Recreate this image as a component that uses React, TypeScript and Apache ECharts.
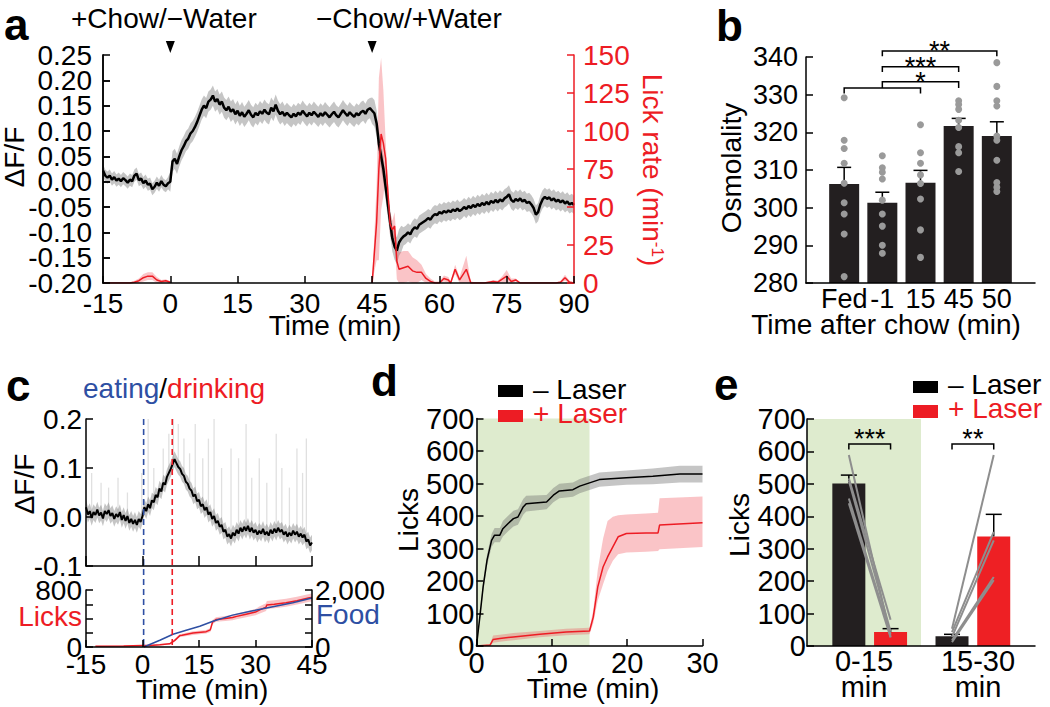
import React, { useEffect, useRef } from 'react';
import * as echarts from 'echarts';

// ---------------- style constants ----------------
const FONT = "'Liberation Sans', Arial, Helvetica, sans-serif";
const RED = '#ed1c24';
const BLUE = '#2e4fa3';
const BAR_BLACK = '#231f20';
const BAR_RED = '#ee2024';
const GREEN = '#deebce';
const DOT_GRAY = '#9a9a9a';
const PAIR_GRAY = '#8e8e8e';
const GRAY_BAND = 'rgba(110,110,110,0.4)';
const PINK_BAND = 'rgba(240,60,70,0.3)';
const SPIKE_GRAY = '#e0e0e0';

// ---------------- panel a data ----------------
const aTimeStart = -15;
const aTimeStep = 0.5;
const aDff = [
  0.022, 0.012, 0.008, 0.012, 0.004, 0.009, 0.002, 0.006, 0.001, 0.007,
  0.003, -0.002, 0.004, 0.001, 0.012, 0.016, 0.003, 0.006, -0.003, 0.002,
  -0.006, -0.004, -0.015, -0.010, -0.002, -0.008, 0.001, -0.006, -0.009, -0.003,
  0.000,
  0.040, 0.045, 0.035, 0.050, 0.062, 0.070, 0.080, 0.085, 0.095, 0.100,
  0.108, 0.118, 0.130, 0.142, 0.150, 0.145, 0.158, 0.162, 0.170, 0.158,
  0.163, 0.152, 0.158, 0.146, 0.141, 0.148, 0.138, 0.143, 0.133, 0.140,
  0.130, 0.137, 0.128, 0.134, 0.141, 0.132, 0.127, 0.136, 0.131, 0.139,
  0.134, 0.142, 0.136, 0.133, 0.146, 0.139, 0.152, 0.140, 0.133, 0.138,
  0.130, 0.136, 0.131, 0.127, 0.134, 0.129, 0.136, 0.132, 0.140, 0.134,
  0.129, 0.136, 0.131, 0.138, 0.133, 0.128, 0.135, 0.130, 0.137, 0.132,
  0.127, 0.133, 0.138, 0.131, 0.127, 0.134, 0.141, 0.135, 0.130, 0.137,
  0.132, 0.128, 0.135, 0.131, 0.137, 0.140, 0.134, 0.142, 0.145, 0.140,
  0.135, 0.115, 0.075, 0.050, 0.025, -0.010, -0.045, -0.080, -0.112, -0.128,
  -0.136, -0.120, -0.113, -0.108,
  -0.105, -0.100, -0.104, -0.095, -0.090, -0.093, -0.085, -0.082, -0.079, -0.076,
  -0.072, -0.075, -0.068, -0.064, -0.066, -0.060, -0.063, -0.058, -0.061, -0.057,
  -0.060, -0.055, -0.058, -0.053, -0.058, -0.055, -0.050, -0.054, -0.048, -0.052,
  -0.046, -0.050, -0.044, -0.048, -0.042, -0.046, -0.040, -0.045, -0.038, -0.042,
  -0.036, -0.041, -0.035, -0.039, -0.033, -0.030, -0.025, -0.036, -0.040, -0.034,
  -0.038, -0.033, -0.039, -0.036, -0.042, -0.040, -0.045, -0.052, -0.065, -0.060,
  -0.045, -0.035, -0.030, -0.034, -0.031, -0.037, -0.033, -0.039, -0.036, -0.041,
  -0.037, -0.043, -0.039, -0.045, -0.042, -0.046,
];
const aSemSteps = [[-15, 0.012], [0, 0.02], [45, 0.026], [52, 0.018]];
const aEventTimes = [0, 45];
const aEventLabels = ['+Chow/\u2212Water', '\u2212Chow/+Water'];

const lickTimePre = [-15, -14, -13, -12, -11, -10, -9, -8, -7, -6, -5, -4, -3, -2, -1, 0];
const lickRatePre = [0, 0, 0, 0, 0, 0, 0, 0.5, 1.5, 3.5, 4.5, 4.5, 2, 1, 1.5, 0.5];
const lickSemPre = [0.5, 0.5, 0.5, 0.5, 0.5, 0.5, 0.5, 1, 1.5, 2.5, 2.5, 2.5, 2, 1, 1, 0.5];
const lickTimePost = [
  45, 46, 46.5, 47, 47.5, 48, 48.5, 49, 49.5, 50,
  50.5, 51, 52, 53, 54, 55, 56, 57, 58, 59,
  60, 61, 62, 62.5, 63.5, 64.5, 66, 67, 68, 70,
  71, 72, 73, 74, 75, 76, 77, 78, 80, 82,
  84, 86, 87, 88, 89, 90,
];
const lickRatePost = [
  0, 40, 75, 98, 92, 82, 60, 39, 35, 37.5,
  14.5, 9, 10, 11, 8, 7, 7, 3, 1, 0,
  0, 3, 2, 0, 9, 2, 9, 0, 0, 0,
  0.5, 1, 0.5, 2.5, 4.5, 1, 2, 0, 0, 0,
  0, 0, 0.5, 3.5, 0.5, 0,
];
const lickSemPost = [
  0, 25, 60, 50, 35, 12, 8, 8, 6, 9,
  12, 11, 11, 10, 9, 8, 5, 3, 2, 1,
  1, 2, 2, 1, 3, 2, 9, 1, 0.5, 0.5,
  0.5, 1, 1, 2, 4, 2, 1, 0.5, 0.5, 0.5,
  0.5, 0.5, 1, 2, 1, 0.5,
];

// ---------------- panel b data ----------------
const bCategories = ['Fed', '-1', '15', '45', '50'];
const bMean = [306.3, 301.3, 306.6, 321.7, 319.0];
const bSem = [4.4, 2.8, 3.3, 2.0, 3.8];
const bDotsFed = [329.2, 317.9, 315.7, 311.8, 306.5, 301.3, 298.3, 293.0, 281.7];
const bDotsM1 = [313.8, 310.6, 309.4, 307.6, 302.0, 298.3, 295.1, 290.0, 287.9];
const bDots15 = [322.0, 314.6, 311.8, 308.7, 306.4, 302.3, 294.1, 286.8];
const bDots45 = [328.4, 327.4, 326.1, 323.2, 321.3, 316.2, 314.6, 309.6];
const bDots50 = [338.5, 332.2, 328.4, 327.0, 319.0, 317.9, 312.6, 306.7, 305.4, 304.3];
const bSigFrom = [0, 1, 1, 1];
const bSigTo = [2, 3, 3, 4];
const bSigY = [331.8, 333.4, 337.4, 341.6];
const bSigEnd = [330.3, 331.8, 336.0, 340.2];
const bSigLabel = ['', '*', '***', '**'];

// ---------------- panel c data ----------------
const cTimeStart = -15;
const cTimeStep = 0.5;
const cDff = [
  0.020, 0.005, 0.012, -0.002, 0.010, 0.004, 0.015, 0.003, 0.009, -0.003,
  0.012, 0.006, 0.014, 0.002, 0.008, -0.004, 0.006, 0.000, 0.010, -0.006,
  0.004, -0.008, 0.002, -0.012, -0.004, -0.014, -0.006, -0.016, -0.004, -0.010,
  0.002, 0.020, 0.012, 0.026, 0.018, 0.034, 0.030, 0.045, 0.040, 0.058,
  0.052, 0.070, 0.066, 0.082, 0.090, 0.098, 0.108, 0.118, 0.110, 0.102,
  0.098, 0.088, 0.084, 0.072, 0.068, 0.058, 0.054, 0.042, 0.046, 0.032,
  0.035, 0.022, 0.026, 0.014, 0.020, 0.005, 0.010, -0.004, 0.002, -0.012,
  -0.008, -0.020, -0.016, -0.030, -0.026, -0.040, -0.035, -0.044, -0.032, -0.038,
  -0.026, -0.034, -0.022, -0.030, -0.020, -0.028, -0.018, -0.030, -0.022, -0.032,
  -0.026, -0.036, -0.028, -0.034, -0.024, -0.036, -0.030, -0.038, -0.026, -0.034,
  -0.024, -0.032, -0.022, -0.030, -0.026, -0.036, -0.030, -0.040, -0.032, -0.038,
  -0.028, -0.036, -0.030, -0.040, -0.034, -0.042, -0.036, -0.050, -0.046, -0.058,
  -0.052,
];
const cSem = 0.016;
const cSpikes = [
  [-13.5, 0.09], [-11, 0.07], [-9, 0.06], [-6.5, 0.08], [-4, 0.05], [-0.2, 0.09],
  [1.5, 0.2], [3, 0.1], [5.5, 0.14], [7, 0.17], [8.2, 0.2], [9.5, 0.19], [11, 0.16],
  [12.5, 0.13], [14, 0.19], [16, 0.12], [17.5, 0.16], [19, 0.2], [21, 0.1], [23.5, 0.14],
  [25.5, 0.12], [27.5, 0.19], [29, 0.08], [31, 0.12], [33, 0.07], [35.5, 0.17], [37, 0.1],
  [39, 0.06], [41, 0.14], [42.5, 0.09], [43.5, 0.16],
];
const cEventTimes = [0.3, 7.9];
const cLickT = [-12.5, -5, 0, 2, 4.6, 7.2, 8.5, 9.9, 10.5, 13.4, 16.9, 18, 18.6, 19.5, 22, 23.9, 25, 27.5, 30, 31, 32.8, 33, 35, 38.1, 41, 44.3, 45];
const cLicks = [12, 15, 20, 22, 30, 45, 90, 160, 165, 195, 215, 240, 350, 385, 400, 414, 430, 461, 490, 518, 560, 590, 600, 621, 650, 690, 695];
const cLickSem = [4, 5, 6, 8, 10, 12, 15, 20, 22, 25, 25, 28, 30, 32, 35, 38, 40, 42, 45, 50, 55, 55, 55, 55, 55, 55, 55];
const cFoodT = [0.35, 4.6, 8.1, 11.6, 15.2, 18.7, 23.9, 29.3, 34.6, 39.9, 45];
const cFood = [0, 235, 447, 588, 729, 906, 1118, 1270, 1412, 1553, 1720];

// ---------------- panel d data ----------------
const laserWindow = [0, 15];
const dMinusT = [0, 0.44, 0.88, 1.4, 2.0, 2.4, 3.1, 3.5, 4.2, 4.9, 5.5, 6.2, 6.6, 9.3, 10.2, 11.0, 12.8, 13.7, 15.0, 16.3, 19.9, 23.4, 27.0, 30];
const dMinus = [0, 89, 182, 264, 325, 341, 341, 361, 377, 392, 397, 428, 438, 443, 464, 477, 481, 492, 502, 512, 518, 522, 529, 529];
const dMinusSem = [0, 8, 14, 18, 20, 22, 22, 24, 24, 24, 24, 24, 24, 22, 22, 22, 22, 22, 22, 22, 22, 24, 26, 26];
const dPlusT = [0, 1.8, 2.2, 3.1, 4.9, 8.4, 11.9, 15.0, 15.5, 16.1, 16.8, 17.4, 18.1, 18.8, 19.9, 22.5, 24.1, 24.3, 30];
const dPlus = [0, 3, 20, 23, 28, 36, 43, 46, 89, 182, 243, 274, 305, 336, 346, 348, 348, 372, 379];
const dPlusHi = [0, 5, 32, 35, 40, 46, 53, 56, 110, 235, 330, 385, 398, 402, 405, 408, 410, 455, 460];
const dPlusLo = [0, 1, 10, 13, 18, 27, 33, 36, 70, 140, 190, 230, 262, 282, 288, 290, 292, 298, 305];

// ---------------- panel e data ----------------
const eGroups = ['0-15\nmin', '15-30\nmin'];
const eMinusMean = [501, 30];
const eMinusSem = [26, 6];
const ePlusMean = [43, 338];
const ePlusSem = [10.5, 68];
const eMinusEach = [[589, 517, 510, 455, 440], [53.5, 43, 28, 17.5, 12]];
const ePlusEach = [[28, 81, 45, 35, 26], [589, 352, 326, 213, 203]];
const eSigLabel = ['***', '**'];
const eSigY = 623;
const eSigEnd = 606;
const legendNames = ['\u2013 Laser', '+ Laser'];

// ---------------- layout ----------------
const G = {
  a: { left: 103, top: 55, width: 471, height: 228 },
  b: { left: 806, top: 57, width: 229, height: 226 },
  cU: { left: 86, top: 419, width: 226, height: 147 },
  cL: { left: 86, top: 590, width: 226, height: 57 },
  d: { left: 476.5, top: 418.5, width: 226, height: 227.5 },
  e: { left: 807, top: 419, width: 228, height: 227 },
};
const E_CENTER = [0.55, 1.455];
const E_HALF = 0.183;
const eX = (g: number, k: number) => E_CENTER[g] + (k === 0 ? -E_HALF : E_HALF);

function axis(o: any) {
  const color = o.color || '#000';
  const a: any = {
    type: o.type || 'value',
    gridIndex: o.gridIndex,
    z: 10,
    axisLine: { show: o.showLine !== false, onZero: false, lineStyle: { color, width: 1.5 } },
    axisTick: { show: o.showTicks !== false, inside: true, length: o.tickLen || 7, lineStyle: { color, width: 1.5 } },
    axisLabel: {
      show: o.showLabels !== false, color, fontSize: o.fontSize || 28, fontFamily: FONT,
      margin: o.margin ?? 8,
      showMinLabel: o.showMin !== undefined ? o.showMin : true,
      showMaxLabel: o.showMax !== undefined ? o.showMax : true,
      hideOverlap: false,
    },
    splitLine: { show: false },
    splitArea: { show: false },
    minorTick: { show: false },
  };
  if (o.min !== undefined) a.min = o.min;
  if (o.max !== undefined) a.max = o.max;
  if (o.interval !== undefined) a.interval = o.interval;
  if (o.position) a.position = o.position;
  if (o.data) a.data = o.data;
  if (o.boundaryGap !== undefined) a.boundaryGap = o.boundaryGap;
  if (o.formatter) a.axisLabel.formatter = o.formatter;
  if (o.lineHeight) a.axisLabel.lineHeight = o.lineHeight;
  if (o.type === 'category') a.axisLabel.interval = 0;
  return a;
}

const bandSeries = (xi: number, yi: number, rows: number[][], fill: string, z: number) => ({
  type: 'custom', xAxisIndex: xi, yAxisIndex: yi, z, silent: true, clip: true,
  data: [[rows[0][0], rows[0][1]]],
  renderItem: (params: any, api: any) => {
    const up = rows.map((r) => api.coord([r[0], r[2]]));
    const lo = rows.slice().reverse().map((r) => api.coord([r[0], r[1]]));
    return { type: 'polygon', shape: { points: up.concat(lo) }, style: { fill } };
  },
});

const lineSeries = (xi: number, yi: number, pts: any[], color: string, width: number, z: number) => ({
  type: 'line', xAxisIndex: xi, yAxisIndex: yi, z, silent: true, data: pts,
  symbol: 'none', showSymbol: false, connectNulls: false,
  lineStyle: { color, width }, itemStyle: { color }, emphasis: { disabled: true },
});

const errSeries = (xi: number, yi: number, rows: number[][], cap: number, z: number) => ({
  type: 'custom', xAxisIndex: xi, yAxisIndex: yi, z, silent: true,
  data: rows, encode: { x: 0, y: [1, 2] },
  renderItem: (params: any, api: any) => {
    const x = api.value(0);
    const p0 = api.coord([x, api.value(1)]);
    const p1 = api.coord([x, api.value(2)]);
    const st = { stroke: '#000', lineWidth: 1.5 };
    return {
      type: 'group', children: [
        { type: 'line', shape: { x1: p0[0], y1: p0[1], x2: p1[0], y2: p1[1] }, style: st },
        { type: 'line', shape: { x1: p1[0] - cap, y1: p1[1], x2: p1[0] + cap, y2: p1[1] }, style: st },
      ],
    };
  },
});

const bracketSeries = (xi: number, yi: number, rows: number[][], labels: string[], fontSize: number, dy: number, z: number) => ({
  type: 'custom', xAxisIndex: xi, yAxisIndex: yi, z, silent: true, clip: false,
  data: rows, encode: { x: [0, 1], y: [2, 3] },
  renderItem: (params: any, api: any) => {
    const x1 = api.value(0), x2 = api.value(1), y = api.value(2), ye = api.value(3);
    const a = api.coord([x1, y]), b = api.coord([x2, y]);
    const ae = api.coord([x1, ye]), be = api.coord([x2, ye]);
    const children: any[] = [
      { type: 'polyline', shape: { points: [ae, a, b, be] }, style: { stroke: '#000', lineWidth: 1.5, fill: null } },
    ];
    const label = labels[params.dataIndex];
    if (label) {
      children.push({
        type: 'text', x: (a[0] + b[0]) / 2, y: a[1] + dy,
        style: { text: label, fontSize, fontFamily: FONT, fill: '#000', align: 'center', verticalAlign: 'middle' },
      });
    }
    return { type: 'group', children };
  },
});

const shadeSeries = (xi: number, yi: number, x0: number, x1: number, y0: number, y1: number, z: number) => ({
  type: 'custom', xAxisIndex: xi, yAxisIndex: yi, z, silent: true,
  data: [[x0, y0, x1, y1]], encode: { x: [0, 2], y: [1, 3] },
  renderItem: (params: any, api: any) => {
    const a = api.coord([api.value(0), api.value(3)]);
    const b = api.coord([api.value(2), api.value(1)]);
    return { type: 'rect', shape: { x: a[0], y: a[1], width: b[0] - a[0], height: b[1] - a[1] }, style: { fill: GREEN } };
  },
});

function txt(text: string, x: number, y: number, o: any = {}) {
  return {
    type: 'text', x, y, rotation: o.rotation || 0, silent: true, z: 100,
    style: {
      text, fontSize: o.fontSize || 28, fontFamily: FONT, fontWeight: o.bold ? 'bold' : 'normal',
      fill: o.color || '#000', align: o.align || 'center', verticalAlign: 'middle',
    },
  };
}
function rect(x: number, y: number, w: number, h: number, fill: string) {
  return { type: 'rect', shape: { x, y, width: w, height: h }, style: { fill }, silent: true, z: 100 };
}

const A_Y_MIN = -0.2;
const A_Y_MAX = 0.25;
const fmt2 = (v: number) => (Math.abs(v) < 1e-9 ? '0.00' : v.toFixed(2));
const isEdge = (v: number) => Math.abs(v - A_Y_MIN) < 1e-9 || Math.abs(v - A_Y_MAX) < 1e-9;

function buildOption() {
  const grids = [G.a, G.b, G.cU, G.cL, G.d, G.e].map((g) => ({ ...g, containLabel: false, outerBoundsMode: 'none', show: false }));

  const xAxes = [
    axis({ gridIndex: 0, min: -15, max: 90, interval: 15, margin: 6 }),
    axis({ gridIndex: 1, type: 'category', data: ['', ...bCategories, ''], boundaryGap: false, showTicks: false, margin: 2, fontSize: 27 }),
    axis({ gridIndex: 2, min: -15, max: 45, interval: 15, showLabels: false, tickLen: 10 }),
    axis({ gridIndex: 3, min: -15, max: 45, interval: 15, margin: 3 }),
    axis({ gridIndex: 4, min: 0, max: 30, interval: 10, margin: 2, fontSize: 29 }),
    axis({
      gridIndex: 5, min: 0, max: 2, interval: 0.5, showTicks: false, margin: 2, fontSize: 29, lineHeight: 26,
      formatter: (v: number) => (v === 0.5 ? eGroups[0] : v === 1.5 ? eGroups[1] : ''),
    }),
  ];
  const yAxes = [
    // inner labels of the ΔF/F axis (edges handled by yAxis 8)
    axis({ gridIndex: 0, min: A_Y_MIN, max: A_Y_MAX, interval: 0.05, margin: 11, showMin: false, showMax: false, formatter: (v: number) => (isEdge(v) ? '' : fmt2(v)) }),
    axis({ gridIndex: 0, min: 0, max: 150, interval: 25, position: 'right', color: RED, margin: 9 }),
    axis({ gridIndex: 1, min: 280, max: 340, interval: 10, margin: 8, fontSize: 27 }),
    axis({ gridIndex: 2, min: -0.1, max: 0.2, interval: 0.1, margin: 4, formatter: (v: number) => (Math.abs(v) < 1e-9 ? '0.0' : v.toFixed(1)) }),
    axis({ gridIndex: 3, min: 0, max: 800, interval: 200, margin: 4, formatter: (v: number) => (v === 0 || v === 800 ? String(v) : '') }),
    axis({ gridIndex: 3, min: 0, max: 2000, interval: 500, position: 'right', margin: 3, formatter: (v: number) => (v === 0 ? '0' : v === 2000 ? '2,000' : '') }),
    axis({ gridIndex: 4, min: 0, max: 700, interval: 100, margin: 2, fontSize: 29, lineHeight: 24 }),
    axis({ gridIndex: 5, min: 0, max: 700, interval: 100, margin: 1, fontSize: 29, lineHeight: 24 }),
    // edge labels (-0.20, 0.25) of the ΔF/F axis
    axis({ gridIndex: 0, min: A_Y_MIN, max: A_Y_MAX, interval: 0.05, position: 'left', margin: 11, formatter: (v: number) => (isEdge(v) ? fmt2(v) : '') }),
  ];

  // ---- panel a ----
  const semAt = (t: number) => {
    let s = aSemSteps[0][1];
    for (const [t0, v] of aSemSteps) if (t >= t0) s = v;
    return s;
  };
  const aPts = aDff.map((v, i) => [aTimeStart + i * aTimeStep, v]);
  const aBand = aPts.map(([t, v]) => [t, v - semAt(t), v + semAt(t)]);
  const lickPre = lickTimePre.map((t, i) => [t, lickRatePre[i]]);
  const lickPost = lickTimePost.map((t, i) => [t, lickRatePost[i]]);
  const lickBandPre = lickTimePre.map((t, i) => [t, Math.max(0, lickRatePre[i] - lickSemPre[i]), lickRatePre[i] + lickSemPre[i]]);
  const lickBandPost = lickTimePost.map((t, i) => [t, Math.max(0, lickRatePost[i] - lickSemPost[i]), lickRatePost[i] + lickSemPost[i]]);
  const lickLine = [...lickPre, [22.5, '-'], ...lickPost];

  // ---- panel c ----
  const cPts = cDff.map((v, i) => [cTimeStart + i * cTimeStep, v]);
  const cBand = cPts.map(([t, v]) => [t, v - cSem, v + cSem]);
  const cLickPts = cLickT.map((t, i) => [t, cLicks[i]]);
  const cLickBand = cLickT.map((t, i) => [t, Math.max(0, cLicks[i] - cLickSem[i]), cLicks[i] + cLickSem[i]]);
  const cFoodPts = cFoodT.map((t, i) => [t, cFood[i]]);

  // ---- panel d ----
  const dMinusPts = dMinusT.map((t, i) => [t, dMinus[i]]);
  const dMinusBand = dMinusT.map((t, i) => [t, dMinus[i] - dMinusSem[i], dMinus[i] + dMinusSem[i]]);
  const dPlusPts = dPlusT.map((t, i) => [t, dPlus[i]]);
  const dPlusBand = dPlusT.map((t, i) => [t, dPlusLo[i], dPlusHi[i]]);

  // ---- panel e ----
  const ePairs: number[][] = [];
  eMinusEach.forEach((arr, g) => arr.forEach((v, k) => ePairs.push([eX(g, 0), v, eX(g, 1), ePlusEach[g][k]])));

  const series: any[] = [
    // panel a
    bandSeries(0, 0, aBand, GRAY_BAND, 2),
    bandSeries(0, 1, lickBandPre, PINK_BAND, 3),
    bandSeries(0, 1, lickBandPost, PINK_BAND, 3),
    lineSeries(0, 0, aPts, '#000', 2.5, 4),
    lineSeries(0, 1, lickLine, RED, 1.5, 5),
    {
      type: 'custom', xAxisIndex: 0, yAxisIndex: 0, z: 6, silent: true, clip: false,
      data: aEventTimes.map((t) => [t, A_Y_MAX]),
      renderItem: (params: any, api: any) => {
        const p = api.coord([api.value(0), api.value(1)]);
        return { type: 'polygon', shape: { points: [[p[0] - 4.5, p[1] - 14], [p[0] + 4.5, p[1] - 14], [p[0], p[1] - 2]] }, style: { fill: '#000' } };
      },
    },
    // panel b
    { type: 'bar', xAxisIndex: 1, yAxisIndex: 2, z: 2, silent: true, barWidth: 30, data: ['-', ...bMean, '-'], itemStyle: { color: BAR_BLACK } },
    errSeries(1, 2, bMean.map((m, i) => [i + 1, m, m + bSem[i]]), 7, 3),
    {
      type: 'scatter', xAxisIndex: 1, yAxisIndex: 2, z: 4, silent: true, symbolSize: 7,
      itemStyle: { color: DOT_GRAY, opacity: 1 },
      data: [bDotsFed, bDotsM1, bDots15, bDots45, bDots50].flatMap((arr, i) => arr.map((v) => [i + 1, v])),
    },
    bracketSeries(1, 2, bSigFrom.map((f, i) => [f + 1, bSigTo[i] + 1, bSigY[i], bSigEnd[i]]), bSigLabel, 27, 0, 5),
    // panel c upper
    {
      type: 'custom', xAxisIndex: 2, yAxisIndex: 3, z: 1, silent: true, clip: true,
      data: cSpikes, encode: { x: 0, y: 1 },
      renderItem: (params: any, api: any) => {
        const t = api.value(0);
        const idx = Math.round((t - cTimeStart) / cTimeStep);
        const a = api.coord([t, cDff[idx]]);
        const b = api.coord([t, api.value(1)]);
        return { type: 'line', shape: { x1: a[0], y1: a[1], x2: b[0], y2: b[1] }, style: { stroke: SPIKE_GRAY, lineWidth: 1.3 } };
      },
    },
    bandSeries(2, 3, cBand, GRAY_BAND, 2),
    lineSeries(2, 3, cPts, '#000', 2, 4),
    {
      type: 'custom', xAxisIndex: 2, yAxisIndex: 3, z: 6, silent: true, clip: false,
      data: cEventTimes.map((t) => [t, 0.2]),
      renderItem: (params: any, api: any) => {
        const a = api.coord([api.value(0), api.value(1)]);
        return {
          type: 'line', shape: { x1: a[0], y1: a[1], x2: a[0], y2: G.cL.top + G.cL.height },
          style: { stroke: params.dataIndex === 0 ? BLUE : RED, lineWidth: 1.6, lineDash: [6, 4] },
        };
      },
    },
    // panel c lower
    bandSeries(3, 4, cLickBand, PINK_BAND, 2),
    lineSeries(3, 4, cLickPts, RED, 1.5, 4),
    lineSeries(3, 5, cFoodPts, BLUE, 1.5, 5),
    // panel d
    shadeSeries(4, 6, laserWindow[0], laserWindow[1], 0, 700, 1),
    bandSeries(4, 6, dMinusBand, GRAY_BAND, 2),
    bandSeries(4, 6, dPlusBand, PINK_BAND, 2),
    lineSeries(4, 6, dMinusPts, '#000', 1.5, 4),
    lineSeries(4, 6, dPlusPts, RED, 1.5, 4),
    // panel e
    shadeSeries(5, 7, 0, 1, 0, 700, 1),
    { type: 'bar', xAxisIndex: 5, yAxisIndex: 7, z: 2, silent: true, barWidth: 33, barGap: '-100%', data: eMinusMean.map((v, g) => [eX(g, 0), v]), itemStyle: { color: BAR_BLACK } },
    { type: 'bar', xAxisIndex: 5, yAxisIndex: 7, z: 2, silent: true, barWidth: 33, barGap: '-100%', data: ePlusMean.map((v, g) => [eX(g, 1), v]), itemStyle: { color: BAR_RED } },
    errSeries(5, 7, [
      ...eMinusMean.map((m, g) => [eX(g, 0), m, m + eMinusSem[g]]),
      ...ePlusMean.map((m, g) => [eX(g, 1), m, m + ePlusSem[g]]),
    ], 8, 3),
    {
      type: 'custom', xAxisIndex: 5, yAxisIndex: 7, z: 4, silent: true,
      data: ePairs, encode: { x: [0, 2], y: [1, 3] },
      renderItem: (params: any, api: any) => {
        const a = api.coord([api.value(0), api.value(1)]);
        const b = api.coord([api.value(2), api.value(3)]);
        return { type: 'line', shape: { x1: a[0], y1: a[1], x2: b[0], y2: b[1] }, style: { stroke: PAIR_GRAY, lineWidth: 2 } };
      },
    },
    bracketSeries(5, 7, [0, 1].map((g) => [eX(g, 0), eX(g, 1), eSigY, eSigEnd]), eSigLabel, 27, -5, 5),
  ];

  const red = { color: RED };
  const graphics: any[] = [
    // panel a
    txt('a', 4, 24, { bold: true, fontSize: 44, align: 'left' }),
    txt(aEventLabels[0], 71, 18, { align: 'left' }),
    txt(aEventLabels[1], 316, 18, { align: 'left' }),
    txt('\u0394F/F', 14, 157, { rotation: Math.PI / 2 }),
    txt('Time (min)', 335, 325),
    {
      type: 'text', x: 652, y: 170, rotation: -Math.PI / 2, silent: true, z: 100,
      style: {
        text: '{n|Lick rate (min}{s|-1}{n|)}', align: 'center', verticalAlign: 'middle', fontFamily: FONT, fontSize: 28, fill: RED,
        rich: {
          n: { fontSize: 28, fontFamily: FONT, fill: RED, color: RED },
          s: { fontSize: 17, fontFamily: FONT, fill: RED, color: RED, verticalAlign: 'top' },
        },
      },
    },
    // panel b
    txt('b', 716, 25, { bold: true, fontSize: 44, align: 'left' }),
    txt('Osmolality', 731, 168, { rotation: Math.PI / 2 }),
    txt('Time after chow (min)', 886, 324),
    // panel c
    txt('c', 6, 385, { bold: true, fontSize: 44, align: 'left' }),
    {
      type: 'text', x: 83, y: 388, silent: true, z: 100,
      style: {
        text: '{e|eating}{s|/}{d|drinking}', align: 'left', verticalAlign: 'middle', fontFamily: FONT, fontSize: 28,
        rich: {
          e: { fontSize: 28, fontFamily: FONT, fill: BLUE, color: BLUE },
          s: { fontSize: 28, fontFamily: FONT, fill: '#000', color: '#000' },
          d: { fontSize: 28, fontFamily: FONT, fill: RED, color: RED },
        },
      },
    },
    txt('\u0394F/F', 24, 484, { rotation: Math.PI / 2 }),
    txt('Licks', 82, 616, { align: 'right', ...red }),
    txt('Food', 316, 614, { align: 'left', color: BLUE }),
    txt('Time (min)', 202, 689),
    // panel d
    txt('d', 371, 380, { bold: true, fontSize: 44, align: 'left' }),
    rect(498, 385, 25, 12, '#000'),
    txt(legendNames[0], 533, 389, { align: 'left' }),
    rect(498, 410, 25, 12, RED),
    txt(legendNames[1], 533, 413, { align: 'left', ...red }),
    txt('Licks', 408, 520, { rotation: Math.PI / 2 }),
    txt('Time (min)', 593, 688),
    // panel e
    txt('e', 714, 384, { bold: true, fontSize: 44, align: 'left' }),
    rect(913, 381, 25, 12, '#000'),
    txt(legendNames[0], 948, 384, { align: 'left' }),
    rect(913, 405, 25, 13, RED),
    txt(legendNames[1], 948, 408, { align: 'left', ...red }),
    txt('Licks', 739, 525, { rotation: Math.PI / 2 }),
  ];

  return {
    animation: false,
    backgroundColor: '#ffffff',
    textStyle: { fontFamily: FONT },
    grid: grids,
    xAxis: xAxes,
    yAxis: yAxes,
    series,
    graphic: { elements: graphics },
  };
}

export default function App() {
  const ref = useRef<HTMLDivElement>(null);
  useEffect(() => {
    document.body.style.margin = '0';
    const chart = echarts.init(ref.current as HTMLDivElement, undefined, { renderer: 'svg' });
    chart.setOption(buildOption() as any);
    return () => chart.dispose();
  }, []);
  return <div ref={ref} style={{ position: 'fixed', left: 0, top: 0, width: 1050, height: 707 }} />;
}
